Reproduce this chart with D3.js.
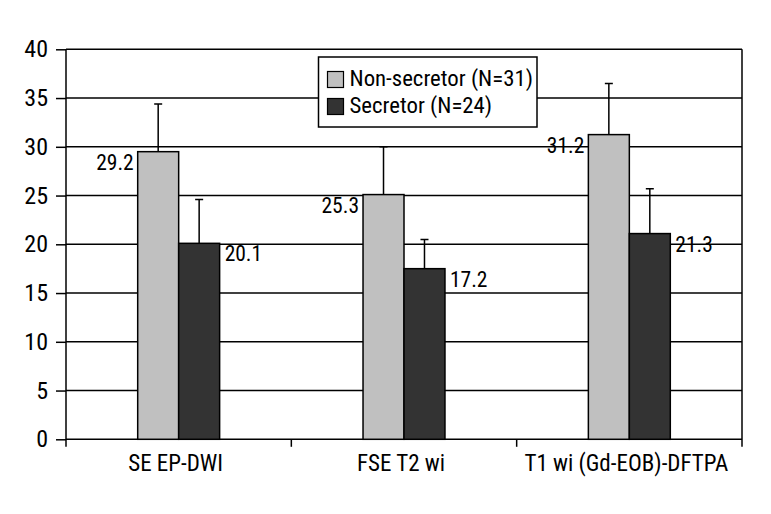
<!DOCTYPE html>
<html><head><meta charset="utf-8">
<script src="https://cdn.jsdelivr.net/npm/d3@7"></script>
<style>body{margin:0;background:#fff}svg{display:block}</style>
</head><body><svg id="c" width="771" height="514"></svg>
<script>
const categories = ["SE EP-DWI", "FSE T2 wi", "T1 wi (Gd-EOB)-DFTPA"];
const seriesNames = ["Non-secretor (N=31)", "Secretor (N=24)"];
const nonSecretor = [29.5, 25.1, 31.25];
const secretor = [20.1, 17.5, 21.1];
const nonSecretorErrTop = [34.4, 30.0, 36.5];
const secretorErrTop = [24.6, 20.5, 25.7];
const nonSecretorLabels = ["29.2", "25.3", "31.2"];
const secretorLabels = ["20.1", "17.2", "21.3"];
const yTicks = [0, 5, 10, 15, 20, 25, 30, 35, 40];
const colors = ["#c0c0c0", "#333333"];

const font = "'Roboto Condensed','Liberation Sans Narrow',sans-serif";
const svg = d3.select("#c");
const L = 66, R = 742, T = 49.3, B = 439.3;

const y = d3.scaleLinear().domain([0, 40]).range([B, T]);
const x0 = d3.scaleBand().domain(categories).range([L, R]).padding(0);
const x1 = d3.scaleBand().domain(seriesNames).range([0, x0.bandwidth()]).paddingOuter(1.75).paddingInner(0);

const rows = categories.map((c, i) => ({
  cat: c,
  vals: [
    {s: seriesNames[0], v: nonSecretor[i], e: nonSecretorErrTop[i], lab: nonSecretorLabels[i], k: 0},
    {s: seriesNames[1], v: secretor[i], e: secretorErrTop[i], lab: secretorLabels[i], k: 1}
  ]
}));

// gridlines
svg.append("g").selectAll("line").data(yTicks).join("line")
  .attr("x1", L).attr("x2", R).attr("y1", d => y(d)).attr("y2", d => y(d))
  .attr("stroke", "#000").attr("stroke-width", 1.5);

// y axis
const ya = svg.append("g").attr("transform", `translate(${L},0)`)
  .call(d3.axisLeft(y).tickValues(yTicks).tickSize(10).tickPadding(8).tickSizeOuter(0));
ya.select(".domain").remove();
ya.selectAll(".tick line").attr("stroke", "#000").attr("stroke-width", 1.5);
ya.selectAll(".tick text").attr("font-family", font).attr("font-size", 24).attr("fill", "#000");

// axis lines
svg.append("line").attr("x1", L).attr("x2", L).attr("y1", T).attr("y2", B + 7.5)
  .attr("stroke", "#000").attr("stroke-width", 1.5);
svg.append("line").attr("x1", R).attr("x2", R).attr("y1", T).attr("y2", B + 7.5)
  .attr("stroke", "#000").attr("stroke-width", 1.5);

// x ticks at band boundaries
const bounds = categories.map(c => x0(c)).concat([R]);
svg.append("g").selectAll("line").data(bounds.slice(1, -1)).join("line")
  .attr("x1", d => d).attr("x2", d => d).attr("y1", B).attr("y2", B + 7.5)
  .attr("stroke", "#000").attr("stroke-width", 1.5);

// category labels
svg.append("g").selectAll("text").data(categories).join("text")
  .attr("x", d => x0(d) + x0.bandwidth() / 2 - 3).attr("y", 470.5)
  .attr("text-anchor", "middle").attr("font-family", font).attr("font-size", 23)
  .text(d => d);

// bars
const g = svg.append("g").selectAll("g").data(rows).join("g")
  .attr("transform", d => `translate(${x0(d.cat)},0)`);
g.selectAll("rect").data(d => d.vals).join("rect")
  .attr("x", d => x1(d.s)).attr("width", x1.bandwidth())
  .attr("y", d => y(d.v)).attr("height", d => y(0) - y(d.v))
  .attr("fill", d => colors[d.k]).attr("stroke", "#000").attr("stroke-width", 1.5);

// error bars
g.selectAll("path.err").data(d => d.vals).join("path").attr("class", "err")
  .attr("d", d => {
    const cx = x1(d.s) + x1.bandwidth() / 2;
    return `M${cx},${y(d.v)}V${y(d.e)}M${cx - 4},${y(d.e)}H${cx + 4}`;
  })
  .attr("fill", "none").attr("stroke", "#000").attr("stroke-width", 1.5);

// value labels
g.selectAll("text").data(d => d.vals).join("text")
  .attr("x", d => d.k === 0 ? x1(d.s) - 4 : x1(d.s) + x1.bandwidth() + 5)
  .attr("y", d => y(d.v) + 18)
  .attr("text-anchor", d => d.k === 0 ? "end" : "start")
  .attr("font-family", font).attr("font-size", 21.5)
  .text(d => d.lab);

// legend
const lg = svg.append("g");
lg.append("rect").attr("x", 318.5).attr("y", 57).attr("width", 218.5).attr("height", 70)
  .attr("fill", "#fff").attr("stroke", "#000").attr("stroke-width", 1.5);
const ly = [71.5, 98.5];
const lb = [85.5, 113];
seriesNames.forEach((s, i) => {
  lg.append("rect").attr("x", 327.5).attr("y", ly[i]).attr("width", 16).attr("height", 16)
    .attr("fill", colors[i]).attr("stroke", "#000").attr("stroke-width", 1.2);
  lg.append("text").attr("x", 349.5).attr("y", lb[i])
    .attr("font-family", font).attr("font-size", 22.8).text(s);
});
</script></body></html>
